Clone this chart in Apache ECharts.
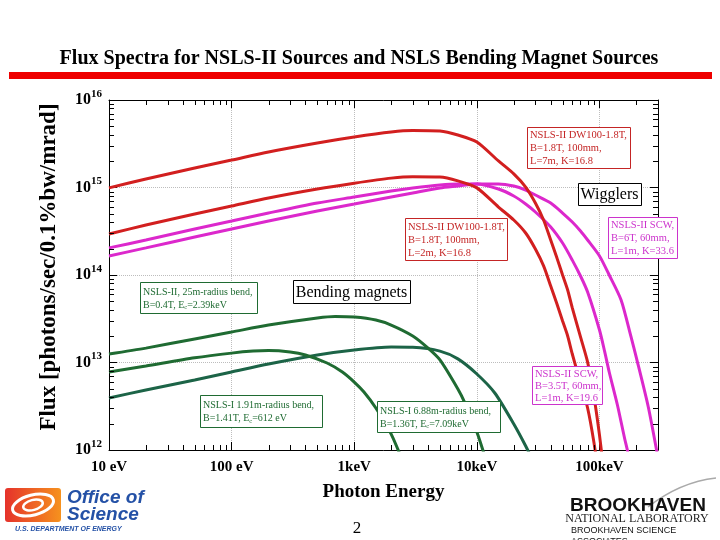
<!DOCTYPE html>
<html><head><meta charset="utf-8">
<script src="https://cdn.jsdelivr.net/npm/echarts@6/dist/echarts.min.js"></script>
<style>html,body{margin:0;padding:0;background:#fff}#c{width:720px;height:540px}</style>
</head><body><div id="c"></div>
<script>
// ---------- data (photon energy in eV, flux in photons/sec/0.1%bw/mrad) ----------
const xTickLabels = ['10 eV', '100 eV', '1keV', '10keV', '100keV'];

const energyDW7m = [10,20,50,100,200,500,1000,2000,3000,5000,7000,10000,15000,20000,25000,30000,35000,40000,45000,50000,55000,60000,70000,80000,90000,100000,110000];
const fluxDW7m   = [9.9e14,1.25e15,1.67e15,2.06e15,2.55e15,3.23e15,3.78e15,4.31e15,4.48e15,4.42e15,3.98e15,3.31e15,2.01e15,1.43e15,1.01e15,6.65e14,4.25e14,2.51e14,1.56e14,1.0e14,6.74e13,4.2e13,1.96e13,1.01e13,4.14e12,1.48e12,4.8e11];

const energyDW2m = [10,20,50,100,200,500,1000,2000,3000,5000,7000,10000,15000,20000,25000,30000,35000,40000,45000,50000,55000,60000,70000,80000,90000,100000];
const fluxDW2m   = [2.94e14,3.73e14,4.98e14,6.14e14,7.59e14,9.62e14,1.12e15,1.28e15,1.33e15,1.32e15,1.19e15,9.9e14,5.98e14,4.25e14,3.02e14,1.98e14,1.27e14,7.48e13,4.66e13,2.98e13,2.01e13,1.25e13,5.82e12,3.02e12,1.23e12,4.4e11];

const energySCW35 = [10,20,50,100,200,500,1000,2000,3000,5000,7000,10000,15000,20000,25000,30000,40000,50000,60000,70000,80000,100000,110000,120000,140000,160000,170000,200000];
const fluxSCW35   = [2.04e14,2.51e14,3.36e14,4.14e14,5.11e14,6.65e14,7.79e14,9.12e14,9.87e14,1.07e15,1.10e15,1.10e15,9.61e14,8.0e14,6.48e14,5.25e14,3.54e14,2.32e14,1.48e14,9.74e13,6.39e13,2.35e13,1.35e13,7.79e12,3.27e12,1.37e12,9.5e11,2.35e11];

const energySCW6 = [10,20,50,100,200,500,1000,2000,3000,5000,7000,10000,15000,20000,25000,30000,40000,50000,60000,70000,80000,100000,120000,150000,180000,200000,250000,300000];
const fluxSCW6   = [1.65e14,2.04e14,2.72e14,3.36e14,4.14e14,5.39e14,6.48e14,7.79e14,8.65e14,9.87e14,1.04e15,1.10e15,1.10e15,1.04e15,9.36e14,8.21e14,6.65e14,5.11e14,4.03e14,3.18e14,2.51e14,1.65e14,1.0e14,5.18e13,2.01e13,1.13e13,3.1e12,8.1e11];

const energyBM25 = [10,20,50,100,200,500,700,1000,1500,2000,3000,4000,5000,7000,8000,10000,12000];
const fluxBM25   = [1.25e13,1.46e13,1.86e13,2.23e13,2.68e13,3.23e13,3.36e13,3.31e13,3.06e13,2.68e13,2.01e13,1.46e13,1.07e13,4.98e12,3.44e12,1.61e12,7.3e11];

const energyBM191 = [10,20,50,100,150,200,300,400,600,800,1000,1200,1500,2000,2500];
const fluxBM191   = [7.79e12,9.12e12,1.13e13,1.28e13,1.35e13,1.37e13,1.32e13,1.22e13,9.87e12,7.79e12,5.98e12,4.6e12,3.02e12,1.52e12,7.3e11];

const energyBM688 = [10,20,50,100,200,500,1000,2000,3000,5000,7000,10000,14000,20000,25000,30000];
const fluxBM688   = [3.93e12,4.85e12,6.31e12,7.79e12,9.61e12,1.22e13,1.39e13,1.50e13,1.49e13,1.35e13,1.10e13,7.39e12,4.48e12,1.98e12,1.11e12,6.57e11];

// ---------- helpers ----------
const SERIF = '"Liberation Serif", "Times New Roman", serif';
const SANS = '"Liberation Sans", Arial, sans-serif';
const RED = '#d21f1f', MAG = '#dc28cc', GRN = '#1f6b32', GRN2 = '#1c6447';
const X_MIN = 10, X_MAX = 300000, Y_MIN = 1e12, Y_MAX = 1e16;
const zip = (a, b) => a.map((v, i) => [v, b[i]]);
const isPow = v => Math.abs(Math.log10(v) - Math.round(Math.log10(v))) < 1e-6;

const xMinor = [], yMinor = [];
for (let n = 1; n <= 5; n++) for (let k = 2; k <= 9; k++) { const v = k * Math.pow(10, n); if (v < X_MAX) xMinor.push(v); }
for (let n = 12; n <= 15; n++) for (let k = 2; k <= 9; k++) yMinor.push(k * Math.pow(10, n));

function lineSeries(name, e, f, color) {
  return { name, type: 'line', data: zip(e, f), showSymbol: false, symbol: 'none', smooth: 0.25,
           lineStyle: { color, width: 3 }, clip: true, z: 3 };
}

function box(x, y, w, h, lines, color, fontSize, lh, align) {
  const els = [{ type: 'rect', z: 20, shape: { x: x + 0.5, y: y + 0.5, width: w, height: h },
    style: { fill: '#fff', stroke: color, lineWidth: 1 } }];
  els.push({
    type: 'text', z: 21,
    x: align === 'center' ? x + w / 2 : x + 3, y: y + h / 2 + 1,
    style: { text: lines.join('\n'), font: fontSize + 'px ' + SERIF, fill: color,
      textAlign: align || 'left', textVerticalAlign: 'middle', lineHeight: lh,
      rich: { t: { fontSize: fontSize, fontFamily: SERIF, color: color, lineHeight: lh },
              sub: { fontSize: fontSize - 3.5, fontFamily: SERIF, color: color, padding: [5, 0, 0, 0], lineHeight: lh } } }
  });
  return els;
}

const chart = echarts.init(document.getElementById('c'), null, { renderer: 'canvas' });

const graphics = [].concat(
  [
    { type: 'text', x: 359, y: 59, style: { text: 'Flux Spectra for NSLS-II Sources and NSLS Bending Magnet Sources',
      font: 'bold 20px ' + SERIF, fill: '#000', textAlign: 'center', textVerticalAlign: 'middle' } },
    { type: 'rect', shape: { x: 9, y: 72, width: 703, height: 7 }, style: { fill: '#ee0000' } },
    { type: 'text', x: 49, y: 267, rotation: Math.PI / 2, style: { text: 'Flux [photons/sec/0.1%bw/mrad]',
      font: 'bold 23px ' + SERIF, fill: '#000', textAlign: 'center', textVerticalAlign: 'middle' } },
    { type: 'text', x: 357, y: 529, style: { text: '2', font: '17px ' + SERIF, fill: '#000', textAlign: 'center', textVerticalAlign: 'middle' } },
    // Office of Science logo
    { type: 'rect', shape: { x: 5, y: 488, width: 56, height: 34, r: 3 },
      style: { fill: new echarts.graphic.LinearGradient(0, 0, 1, 0, [{ offset: 0, color: '#e5322b' }, { offset: 1, color: '#f6921e' }]) } },
    { type: 'ellipse', shape: { cx: 33, cy: 505, rx: 21, ry: 10 }, rotation: 0.25, originX: 33, originY: 505,
      style: { fill: 'none', stroke: '#fff', lineWidth: 3 } },
    { type: 'ellipse', shape: { cx: 33, cy: 505, rx: 10, ry: 5 }, rotation: 0.25, originX: 33, originY: 505,
      style: { fill: 'none', stroke: '#fff', lineWidth: 2.5 } },
    { type: 'text', x: 67, y: 498, style: { text: 'Office of', font: 'italic bold 19px ' + SANS, fill: '#2451a6', textVerticalAlign: 'middle' } },
    { type: 'text', x: 67, y: 515, style: { text: 'Science', font: 'italic bold 19px ' + SANS, fill: '#2451a6', textVerticalAlign: 'middle' } },
    { type: 'text', x: 15, y: 529, style: { text: 'U.S. DEPARTMENT OF ENERGY', font: 'italic bold 7px ' + SANS, fill: '#2451a6', textVerticalAlign: 'middle' } },
    // Brookhaven logo
    { type: 'bezierCurve', shape: { x1: 648, y1: 507, x2: 716, y2: 478, cpx1: 680, cpy1: 482 },
      style: { stroke: '#aaaaaa', lineWidth: 1.5, fill: 'none' } },
    { type: 'text', x: 638, y: 506, style: { text: 'BROOKHAVEN', font: '900 19px ' + SANS, fill: '#111', textAlign: 'center', textVerticalAlign: 'middle' } },
    { type: 'text', x: 637, y: 519, style: { text: 'NATIONAL LABORATORY', font: '12px ' + SERIF, fill: '#222', textAlign: 'center', textVerticalAlign: 'middle' } },
    { type: 'text', x: 571, y: 531, style: { text: 'BROOKHAVEN SCIENCE', font: '9px ' + SANS, fill: '#111', textVerticalAlign: 'middle' } },
    { type: 'text', x: 571, y: 542, style: { text: 'ASSOCIATES', font: '9px ' + SANS, fill: '#111', textVerticalAlign: 'middle' } }
  ],
  box(527, 127, 103, 41, ['NSLS-II DW100-1.8T,', 'B=1.8T, 100mm,', 'L=7m, K=16.8'], '#c42525', 10.5, 13),
  box(578, 183, 63, 22, ['Wigglers'], '#000', 16, 18, 'center'),
  box(608, 217, 69, 41, ['NSLS-II SCW,', 'B=6T, 60mm,', 'L=1m, K=33.6'], '#cc33cc', 10.5, 13),
  box(405, 218, 102, 42, ['NSLS-II DW100-1.8T,', 'B=1.8T, 100mm,', 'L=2m, K=16.8'], '#c42525', 10.5, 13),
  box(293, 280, 117, 23, ['Bending magnets'], '#000', 16, 18, 'center'),
  box(140, 282, 117, 31, ['NSLS-II, 25m-radius bend,', '{t|B=0.4T, E}{sub|c}{t|=2.39keV}'], GRN, 10, 13),
  box(200, 395, 122, 32, ['NSLS-I 1.91m-radius bend,', '{t|B=1.41T, E}{sub|c}{t|=612 eV}'], GRN, 10, 13),
  box(377, 401, 123, 31, ['NSLS-I 6.88m-radius bend,', '{t|B=1.36T, E}{sub|c}{t|=7.09keV}'], GRN, 10, 13),
  box(532, 366, 70, 38, ['NSLS-II SCW,', 'B=3.5T, 60mm,', 'L=1m, K=19.6'], '#cc33cc', 10.5, 12)
);

const axisCommon = {
  type: 'log', logBase: 10,
  axisLine: { show: true, lineStyle: { color: '#000', width: 1 } },
  axisTick: { show: true, inside: true, length: 8, lineStyle: { color: '#000', width: 1 } }
};

const option = {
  animation: false,
  backgroundColor: '#fff',
  grid: { left: 109, right: 62, top: 100, bottom: 90, containLabel: false },
  xAxis: [
    Object.assign({}, axisCommon, {
      min: X_MIN, max: X_MAX, position: 'bottom',
      axisLabel: { margin: 10, color: '#000', fontFamily: SERIF, fontWeight: 'bold', fontSize: 15,
        formatter: v => isPow(v) ? (xTickLabels[Math.round(Math.log10(v)) - 1] || '') : '' },
      splitLine: { show: true, lineStyle: { type: 'dotted', color: '#bdbdbd', width: 1 } },
      name: 'Photon Energy', nameLocation: 'middle', nameGap: 33,
      nameTextStyle: { color: '#000', fontFamily: SERIF, fontWeight: 'bold', fontSize: 19 }
    }),
    Object.assign({}, axisCommon, { min: X_MIN, max: X_MAX, position: 'top', axisLabel: { show: false }, splitLine: { show: false } })
  ],
  yAxis: [
    Object.assign({}, axisCommon, {
      min: Y_MIN, max: Y_MAX, position: 'left',
      axisLabel: { margin: 7, color: '#000',
        formatter: v => isPow(v) ? '{b|10}{s|' + Math.round(Math.log10(v)) + '}' : '',
        rich: { b: { fontFamily: SERIF, fontWeight: 'bold', fontSize: 16, color: '#000' },
                s: { fontFamily: SERIF, fontWeight: 'bold', fontSize: 11, color: '#000', padding: [0, 0, 12, 0] } } },
      splitLine: { show: true, lineStyle: { type: 'dotted', color: '#bdbdbd', width: 1 } }
    }),
    Object.assign({}, axisCommon, { min: Y_MIN, max: Y_MAX, position: 'right', axisLabel: { show: false }, splitLine: { show: false } })
  ],
  graphic: graphics,
  series: [
    {
      type: 'custom', silent: true, z: 4, clip: false, data: [[X_MIN, Y_MIN]],
      renderItem: (params, api) => {
        const ch = [];
        const seg = (a, b) => ch.push({ type: 'line', shape: { x1: a[0], y1: a[1], x2: b[0], y2: b[1] }, style: { stroke: '#000', lineWidth: 1 } });
        xMinor.forEach(v => {
          const b = api.coord([v, Y_MIN]), t = api.coord([v, Y_MAX]);
          seg([Math.round(b[0]) + 0.5, b[1]], [Math.round(b[0]) + 0.5, b[1] - 5]);
          seg([Math.round(t[0]) + 0.5, t[1]], [Math.round(t[0]) + 0.5, t[1] + 5]);
        });
        yMinor.forEach(v => {
          const l = api.coord([X_MIN, v]), r = api.coord([X_MAX, v]);
          seg([l[0], Math.round(l[1]) + 0.5], [l[0] + 5, Math.round(l[1]) + 0.5]);
          seg([r[0], Math.round(r[1]) + 0.5], [r[0] - 5, Math.round(r[1]) + 0.5]);
        });
        return { type: 'group', children: ch };
      }
    },
    lineSeries('NSLS-I 6.88m', energyBM688, fluxBM688, GRN2),
    lineSeries('NSLS-I 1.91m', energyBM191, fluxBM191, GRN),
    lineSeries('NSLS-II 25m', energyBM25, fluxBM25, GRN),
    lineSeries('NSLS-II SCW 6T', energySCW6, fluxSCW6, MAG),
    lineSeries('NSLS-II SCW 3.5T', energySCW35, fluxSCW35, MAG),
    lineSeries('NSLS-II DW100 L=2m', energyDW2m, fluxDW2m, RED),
    lineSeries('NSLS-II DW100 L=7m', energyDW7m, fluxDW7m, RED)
  ]
};
chart.setOption(option);
</script>
</body></html>
